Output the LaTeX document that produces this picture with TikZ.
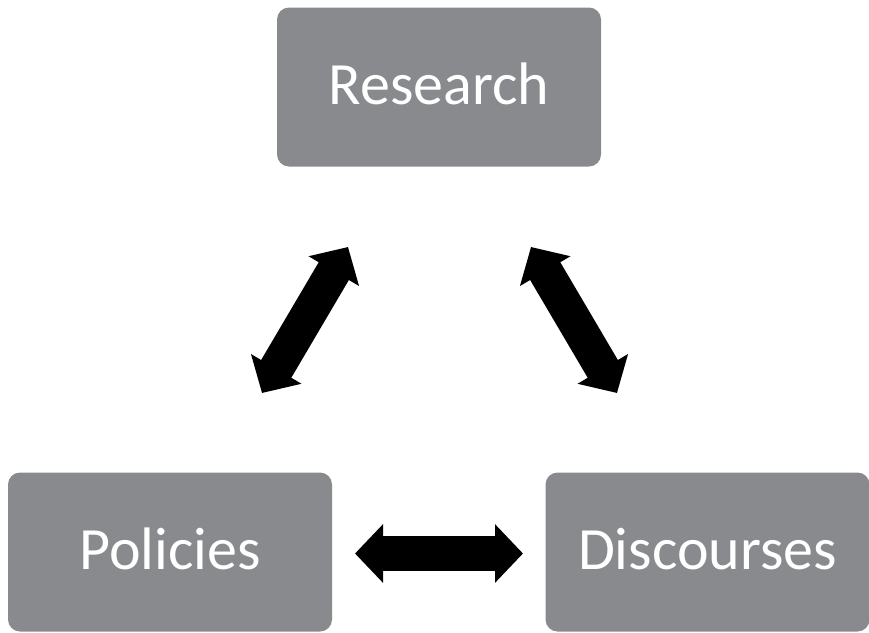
\documentclass[tikz,border=0pt]{standalone}
\usepackage{fontspec}
\setmainfont{Carlito}
\usetikzlibrary{arrows.meta}
\definecolor{boxgray}{RGB}{137,138,142}
\tikzset{
  box/.style={fill=boxgray, rounded corners=12pt, minimum width=324pt, minimum height=159pt,
    inner sep=0pt, text=white, font=\fontsize{60}{72}\selectfont, text height=45pt, text depth=10pt},
  bigarrow/.style={line width=35pt, black,
    {Triangle[length=28pt,width=57pt]}-{Triangle[length=28pt,width=57pt]}}
}
\begin{document}
\begin{tikzpicture}[x=1pt,y=-1pt]
\useasboundingbox (0,0) rectangle (869,632);
\node[box] (research) at (439,87) {Research};
\node[box] (policies) at (170,552) {Policies};
\node[box] (discourses) at (707.5,552) {Discourses};
\coordinate (l1) at (262,393);
\coordinate (l2) at (348,247);
\coordinate (r1) at (531,247);
\coordinate (r2) at (617,393);
\coordinate (h1) at (355,553.5);
\coordinate (h2) at (523,553.5);
\draw[bigarrow] (l1) -- (l2);
\draw[bigarrow] (r1) -- (r2);
\draw[bigarrow] (h1) -- (h2);
\end{tikzpicture}
\end{document}
